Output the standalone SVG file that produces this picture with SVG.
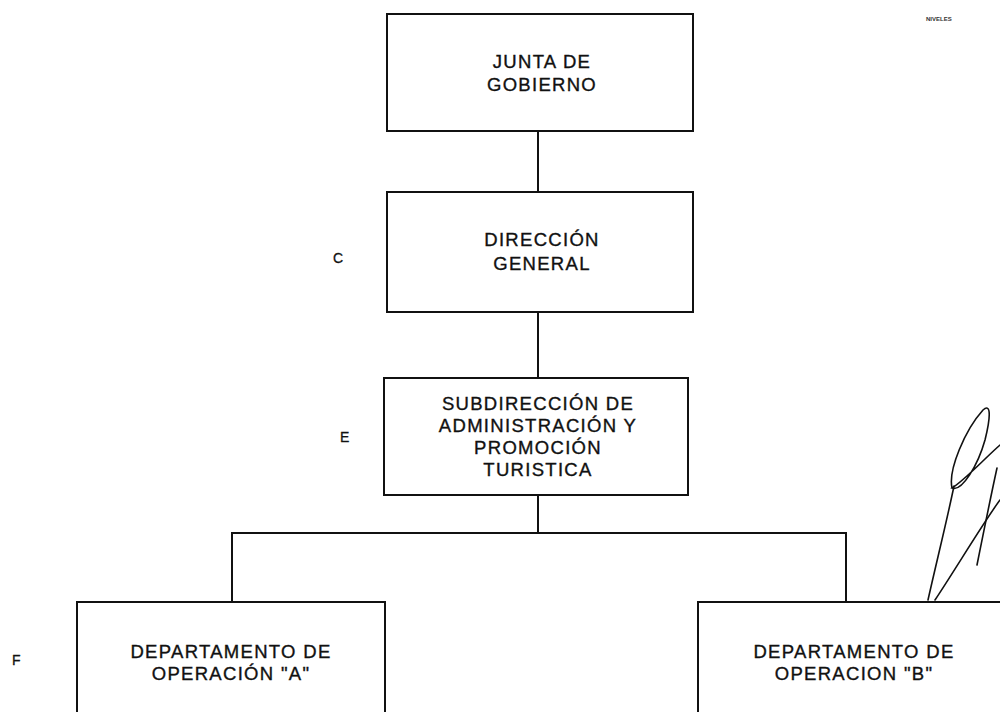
<svg xmlns="http://www.w3.org/2000/svg" width="1000" height="712" viewBox="0 0 1000 712">
<style>
.box{fill:#fff;stroke:#111;stroke-width:2}
.t{font-family:"Liberation Sans",Arial,sans-serif;font-size:18.5px;fill:#111;stroke:#111;stroke-width:0.35;text-anchor:middle;letter-spacing:1.3px}
.lv{font-family:"Liberation Sans",Arial,sans-serif;font-size:14px;fill:#111;stroke:#111;stroke-width:0.3}
.c{stroke:#111;stroke-width:2;fill:none}
.sig{stroke:#111;stroke-width:1.6;fill:none;stroke-linecap:round}
</style>
<rect width="1000" height="712" fill="#fff"/>
<g id="connectors">
<line class="c" x1="538" y1="131" x2="538" y2="192"/>
<line class="c" x1="538" y1="312" x2="538" y2="378"/>
<line class="c" x1="538" y1="495" x2="538" y2="533"/>
<polyline class="c" points="232,602 232,533 846,533 846,602"/>
</g>
<g id="junta">
<rect class="box" x="387" y="14" width="306" height="117"/>
<text class="t" x="542" y="68">JUNTA DE</text>
<text class="t" x="542" y="91">GOBIERNO</text>
</g>
<g id="direccion">
<rect class="box" x="387" y="192" width="306" height="120"/>
<text class="t" x="542" y="246">DIRECCIÓN</text>
<text class="t" x="542" y="270">GENERAL</text>
</g>
<g id="subdireccion">
<rect class="box" x="384" y="378" width="304" height="117"/>
<text class="t" x="538" y="410">SUBDIRECCIÓN DE</text>
<text class="t" x="538" y="432">ADMINISTRACIÓN Y</text>
<text class="t" x="538" y="454">PROMOCIÓN</text>
<text class="t" x="538" y="476">TURISTICA</text>
</g>
<g id="depto-a">
<rect class="box" x="77" y="602" width="308" height="130"/>
<text class="t" x="231" y="658">DEPARTAMENTO DE</text>
<text class="t" x="231" y="680">OPERACIÓN "A"</text>
</g>
<g id="depto-b">
<rect class="box" x="698" y="602" width="320" height="130"/>
<text class="t" x="854" y="658">DEPARTAMENTO DE</text>
<text class="t" x="854" y="680">OPERACION "B"</text>
</g>
<g id="levels">
<text class="lv" x="333" y="263">C</text>
<text class="lv" x="340" y="442">E</text>
<text class="lv" x="12" y="665">F</text>
<text x="926" y="21" font-family="Liberation Sans, Arial, sans-serif" font-size="6" font-weight="bold" fill="#333">NIVELES</text>
</g>
<g id="signature">
<path class="sig" d="M952,488 C948,470 965,430 983,410 C992,402 990,420 985,440 C978,465 962,492 952,488 C965,480 985,458 1000,445"/>
<path class="sig" d="M954,486 C947,520 937,560 928,600"/>
<path class="sig" d="M935,600 C955,570 985,520 1000,500"/>
<path class="sig" d="M997,468 C990,500 982,540 977,565"/>
</g>
</svg>
